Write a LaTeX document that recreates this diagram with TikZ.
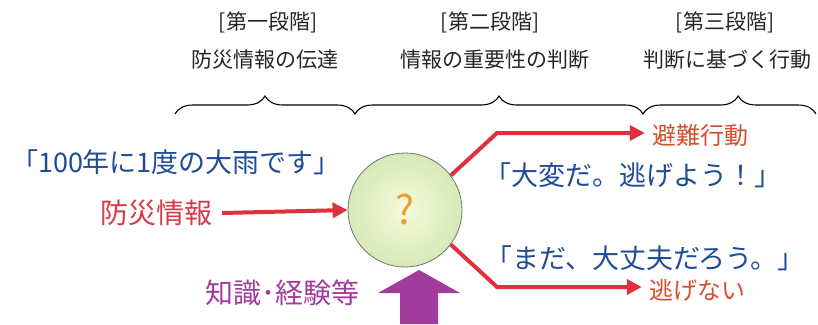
\documentclass[tikz,border=0pt]{standalone}
\usepackage{fontspec}
\setmainfont{Noto Sans CJK JP}
\usetikzlibrary{decorations.pathreplacing,arrows.meta}
\definecolor{txtblue}{HTML}{1F4C96}
\definecolor{arrred}{HTML}{E0303C}
\definecolor{lblred}{HTML}{D53A48}
\definecolor{actred}{HTML}{D4502E}
\definecolor{purp}{HTML}{A23C9C}
\definecolor{ballgreen}{HTML}{D6E9B8}
\definecolor{qorange}{HTML}{E9A030}
\begin{document}
\begin{tikzpicture}[x=1pt,y=-1pt,
  head/.style={font=\fontsize{21}{24}\selectfont, text=black!85, inner sep=0pt},
  quote/.style={font=\fontsize{27}{30}\selectfont, text=txtblue, inner sep=0pt},
  redlbl/.style={font=\fontsize{28}{30}\selectfont, text=lblred, inner sep=0pt},
  actlbl/.style={font=\fontsize{24}{28}\selectfont, text=actred, inner sep=0pt},
  bracebar/.style={decorate, decoration={brace, amplitude=18pt}, line width=1.1pt},
  redarrow/.style={draw=arrred, line width=4pt, -{Triangle[length=15pt,width=15pt]}}]
\useasboundingbox[fill=white] (0,0) rectangle (818,324);

% headers
\node[head] (h1) at (268,22) {[第一段階]};
\node[head] (h1b) at (265,60) {防災情報の伝達};
\node[head] (h2) at (490,22) {[第二段階]};
\node[head] (h2b) at (495,60) {情報の重要性の判断};
\node[head] (h3) at (725,22) {[第三段階]};
\node[head] (h3b) at (727,60) {判断に基づく行動};

% braces
\coordinate (b0) at (175,114);
\coordinate (b1) at (355,114);
\coordinate (b2) at (643,114);
\coordinate (b3) at (816,114);
\draw[bracebar] (b0) -- (b1);
\draw[bracebar] (b1) -- (b2);
\draw[bracebar, decoration={brace, amplitude=18pt, aspect=0.55}] (b2) -- (b3);

% central ball
\node[circle, minimum size=114pt, inner sep=0pt, draw=black!55, line width=0.8pt,
      inner color=ballgreen!70!yellow!30, outer color=ballgreen] (q) at (405,210) {};
\node[font=\fontsize{40}{44}\selectfont, text=qorange, inner sep=0pt] (qm) at (q) {?};

% left texts
\node[quote] (src) at (176,162) {「100年に1度の大雨です」};
\node[redlbl] (dm) at (156,213) {防災情報};
\draw[redarrow] ([xshift=10pt]dm.east) -- (q.west);

% knowledge arrow
\node[font=\fontsize{28}{30}\selectfont, text=purp, inner sep=0pt] (kn) at (282,293) {知識･経験等};
\coordinate (ka) at (419,270);
\fill[purp] (400,324) -- (400,293) -- (378,293) -- (ka) -- (460,293) -- (438,293) -- (438,324) -- cycle;

% upper branch
\node[actlbl] (hinan) at (700,135) {避難行動};
\node[quote] (say1) at (633,175) {「大変だ。逃げよう！」};
\coordinate (c1) at (497,133);
\draw[redarrow] (q.37) -- (c1) -- ([xshift=-7pt]hinan.west |- c1);

% lower branch
\node[quote] (say2) at (645,258) {「まだ、大丈夫だろう。」};
\node[actlbl] (nige) at (697,290) {逃げない};
\coordinate (c2) at (497,287);
\draw[redarrow] (q.-37) -- (c2) -- ([xshift=-7pt]nige.west |- c2);
\end{tikzpicture}
\end{document}
